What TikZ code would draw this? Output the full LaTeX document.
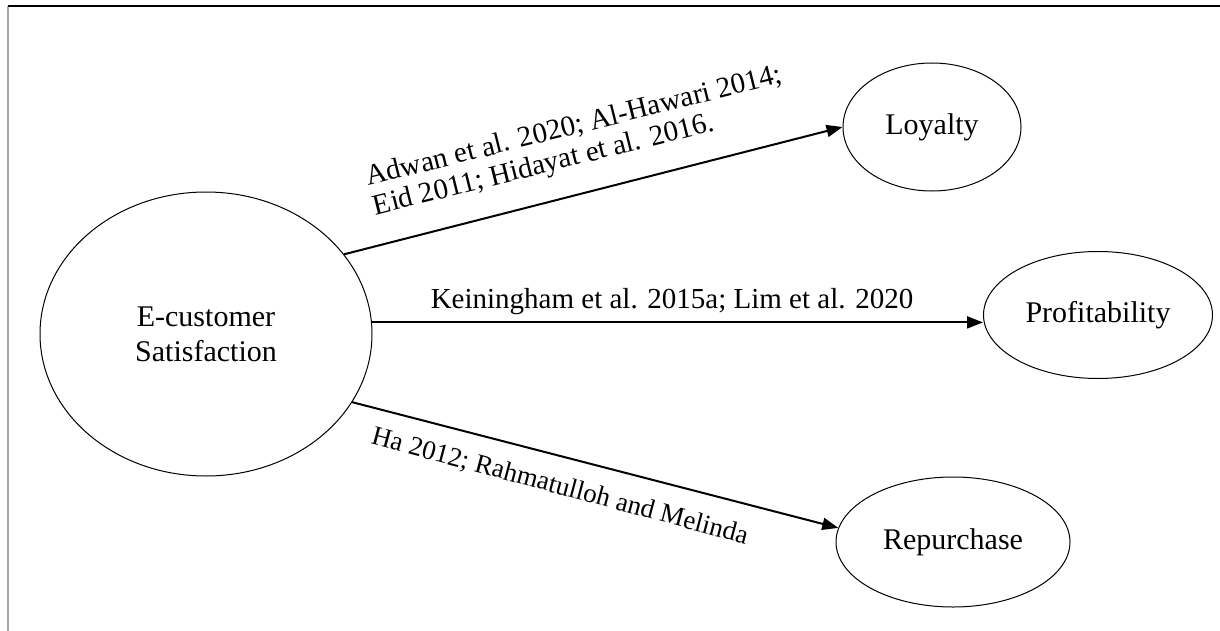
\documentclass[tikz,border=0pt]{standalone}
\usepackage{fontspec}
\setmainfont{Liberation Serif}
\usetikzlibrary{arrows.meta,shapes.geometric}

\begin{document}
\begin{tikzpicture}[x=0.5pt,y=-0.5pt,
  construct/.style={draw,ellipse,line width=0.5pt,inner sep=0pt,align=center,font=\fontsize{15}{17.5}\selectfont},
  link/.style={line width=1pt,-{Triangle[length=8pt,width=6pt]}},
  cite/.style={inner sep=0pt,font=\fontsize{14.5}{15}\selectfont}]
\useasboundingbox (0,0) rectangle (1220,631);
\draw[gray!70,line width=1pt] (8,631) -- (8,6);
\draw[line width=0.6pt] (8,6) -- (1220,6);
\node[construct,minimum width=166pt,minimum height=142pt] (sat) at (206,334) {E-customer\\Satisfaction};
\node[construct,minimum width=89pt,minimum height=64pt] (loy) at (932,127) {Loyalty};
\node[construct,minimum width=114.5pt,minimum height=63.5pt] (prof) at (1098,315) {Profitability};
\node[construct,minimum width=117pt,minimum height=65pt] (rep) at (953,542) {Repurchase};
\draw[link] (sat.30) -- (loy.west);
\draw[link] (sat.4) -- (sat.4 -| prof.west);
\draw[link] (sat.-25) -- (rep.173);
\node[cite,rotate=14,align=left] (citeLoy) at (578,142) {Adwan et al. 2020; Al-Hawari 2014;\\Eid 2011; Hidayat et al. 2016.};
\node[cite,anchor=base] (citeProf) at (672,308) {Keiningham et al. 2015a; Lim et al. 2020};
\node[cite,anchor=base,rotate=-15,font=\fontsize{13.5}{15}\selectfont] (citeRep) at (558,494) {Ha 2012; Rahmatulloh and Melinda};
\end{tikzpicture}
\end{document}
